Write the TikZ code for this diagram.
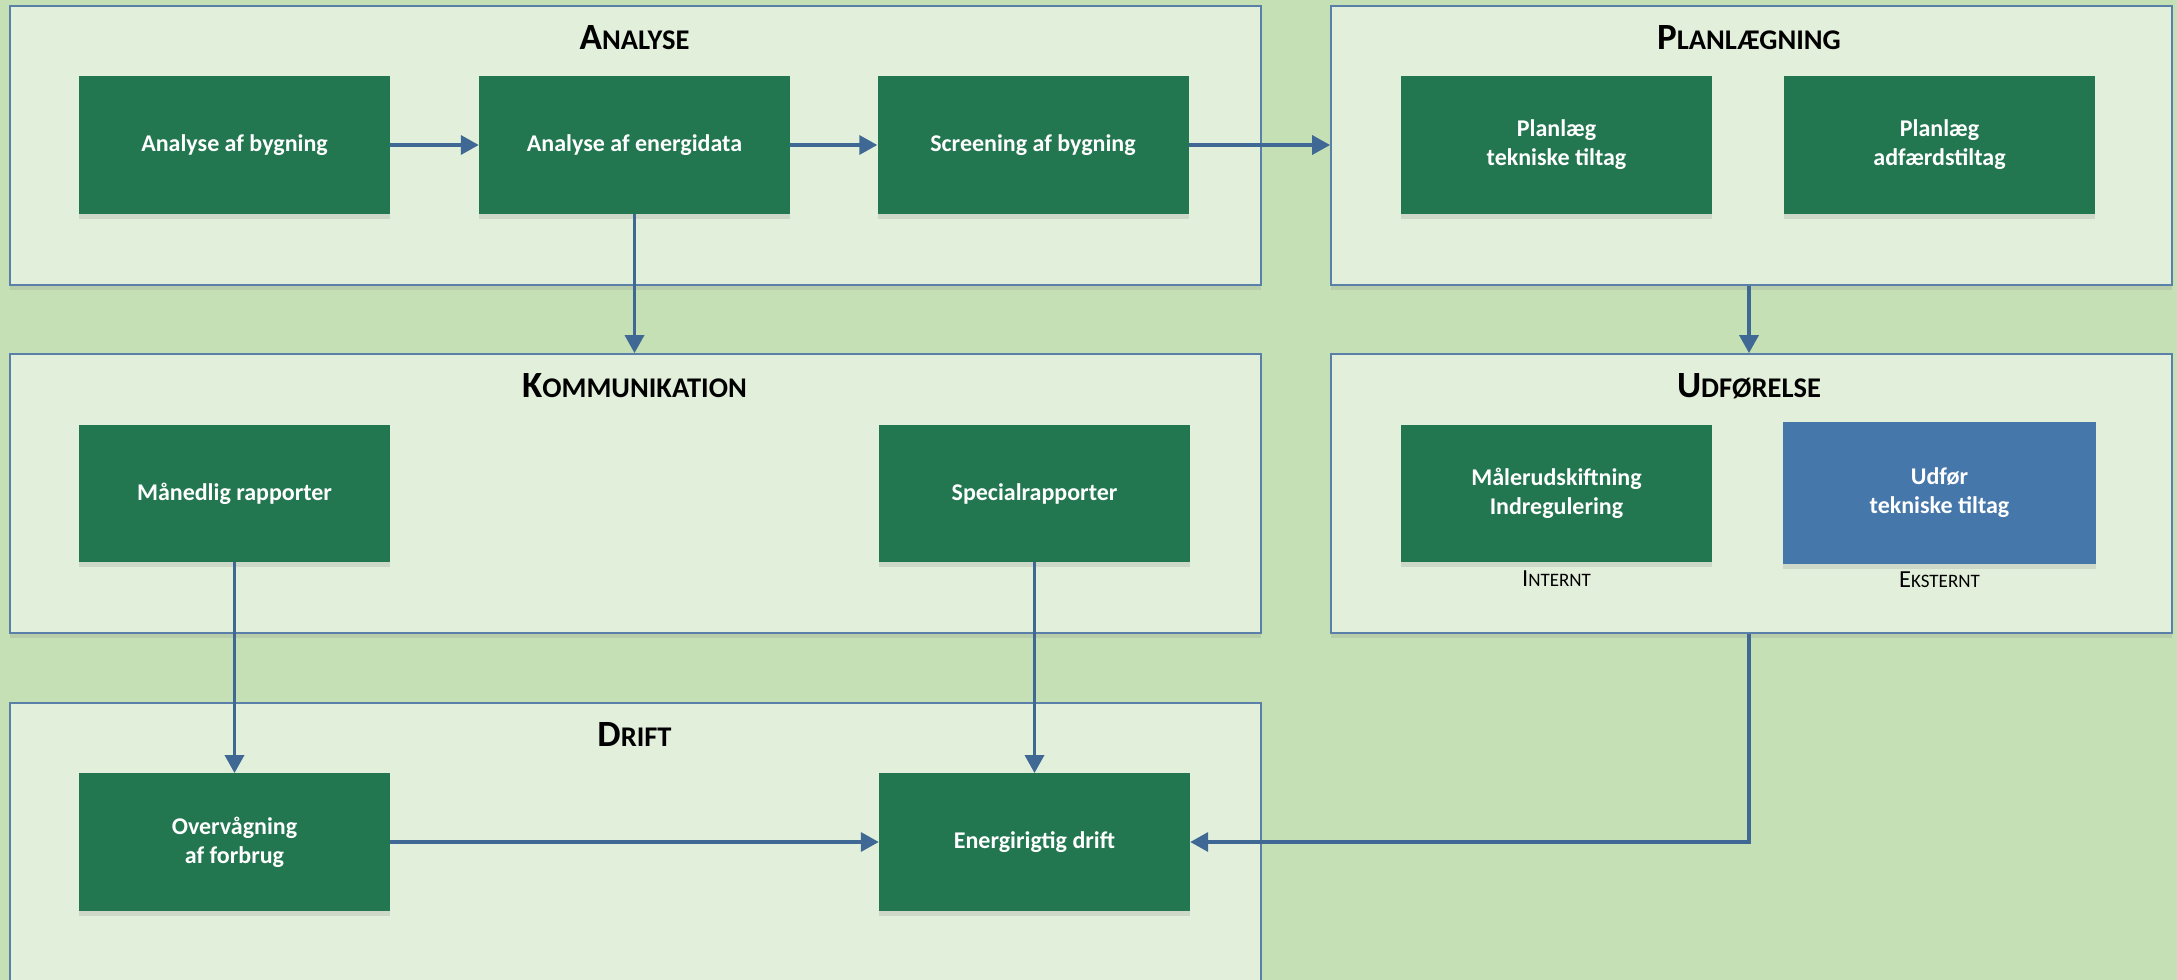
\documentclass[tikz,border=0pt]{standalone}
\usepackage{fontspec}
\setmainfont{Carlito}
\usetikzlibrary{arrows.meta,shadows}
\definecolor{bg}{HTML}{C5E0B4}
\definecolor{panelfill}{HTML}{E2EFDA}
\definecolor{panelline}{HTML}{5A7FA8}
\definecolor{boxgreen}{HTML}{227650}
\definecolor{boxblue}{HTML}{4577AA}
\definecolor{arrowblue}{HTML}{3F6894}
\newcommand\bigsc[2]{{\fontsize{37}{42}\selectfont #1}{\fontsize{28.5}{32}\selectfont #2}}
\newcommand\smallsc[2]{{\fontsize{24.5}{28}\selectfont #1}{\fontsize{19}{22}\selectfont #2}}
\tikzset{
  panel/.style={draw=panelline, line width=1.8pt, fill=panelfill, inner sep=0pt,
    drop shadow={opacity=0.18, shadow xshift=0pt, shadow yshift=-5pt}},
  gbox/.style={fill=boxgreen, inner sep=0pt, minimum width=311pt, minimum height=137.5pt,
    align=center, text=white, font=\bfseries\fontsize{24}{29}\selectfont,
    drop shadow={opacity=0.2, shadow xshift=0pt, shadow yshift=-5pt}},
  bbox/.style={gbox, fill=boxblue, minimum width=313pt, minimum height=142pt},
  ptitle/.style={inner sep=0pt, font=\bfseries, text=black},
  sublabel/.style={inner sep=0pt, text=black},
  arr/.style={draw=arrowblue, line width=3.5pt, -{Triangle[length=18pt,width=19pt]}}
}
\begin{document}
\begin{tikzpicture}[x=1pt,y=-1pt]
\useasboundingbox (0,0) rectangle (2177,980);
\clip (0,0) rectangle (2177,980);
\fill[bg] (0,0) rectangle (2177,980);

% panels
\node[panel, minimum width=1251pt, minimum height=279pt] (pA) at (635.5,145.5) {};
\node[panel, minimum width=841pt, minimum height=279pt] (pP) at (1751.5,145.5) {};
\node[panel, minimum width=1251pt, minimum height=279pt] (pK) at (635.5,493.5) {};
\node[panel, minimum width=841pt, minimum height=279pt] (pU) at (1751.5,493.5) {};
\node[panel, minimum width=1251pt, minimum height=300pt] (pD) at (635.5,853) {};

% titles
\node[ptitle] (tA) at (634.5,37.5) {\bigsc{A}{NALYSE}};
\node[ptitle] (tP) at (1749,37.5) {\bigsc{P}{LANLÆGNING}};
\node[ptitle] (tK) at (634.5,386) {\bigsc{K}{OMMUNIKATION}};
\node[ptitle] (tU) at (1749,386) {\bigsc{U}{DFØRELSE}};
\node[ptitle] (tD) at (634.5,734.5) {\bigsc{D}{RIFT}};

% boxes
\node[gbox] (ab) at (234.5,145) {Analyse af bygning};
\node[gbox] (ae) at (634.5,145) {Analyse af energidata};
\node[gbox] (sb) at (1033,145) {Screening af bygning};
\node[gbox] (pt) at (1556.5,145) {Planlæg\\tekniske tiltag};
\node[gbox] (pa) at (1939.5,145) {Planlæg\\adfærdstiltag};
\node[gbox] (mr) at (234.5,493.5) {Månedlig rapporter};
\node[gbox] (sr) at (1034.5,493.5) {Specialrapporter};
\node[gbox] (mi) at (1556.5,493.5) {Målerudskiftning\\Indregulering};
\node[bbox] (ut) at (1939.5,493) {Udfør\\tekniske tiltag};
\node[gbox] (ov) at (234.5,842) {Overvågning\\af forbrug};
\node[gbox] (ed) at (1034.5,842) {Energirigtig drift};

% sub labels
\node[sublabel] (lint) at (1556.5,579) {\smallsc{I}{NTERNT}};
\node[sublabel] (lext) at (1939.5,580) {\smallsc{E}{KSTERNT}};

% connectors
\draw[arr] (ab.east) -- (ae.west);
\draw[arr] (ae.east) -- (sb.west);
\draw[arr] (sb.east) -- (sb.east -| pP.west);
\draw[arr] (ae.south) -- (ae.south |- pK.north);
\draw[arr] ([xshift=-2.5pt]pP.south) -- ([xshift=-2.5pt]pU.north);
\draw[arr] (mr.south) -- (ov.north);
\draw[arr] (sr.south) -- (ed.north);
\draw[arr] ([xshift=-2.5pt]pU.south) |- (ed.east);
\draw[arr] (ov.east) -- (ed.west);
\end{tikzpicture}
\end{document}
